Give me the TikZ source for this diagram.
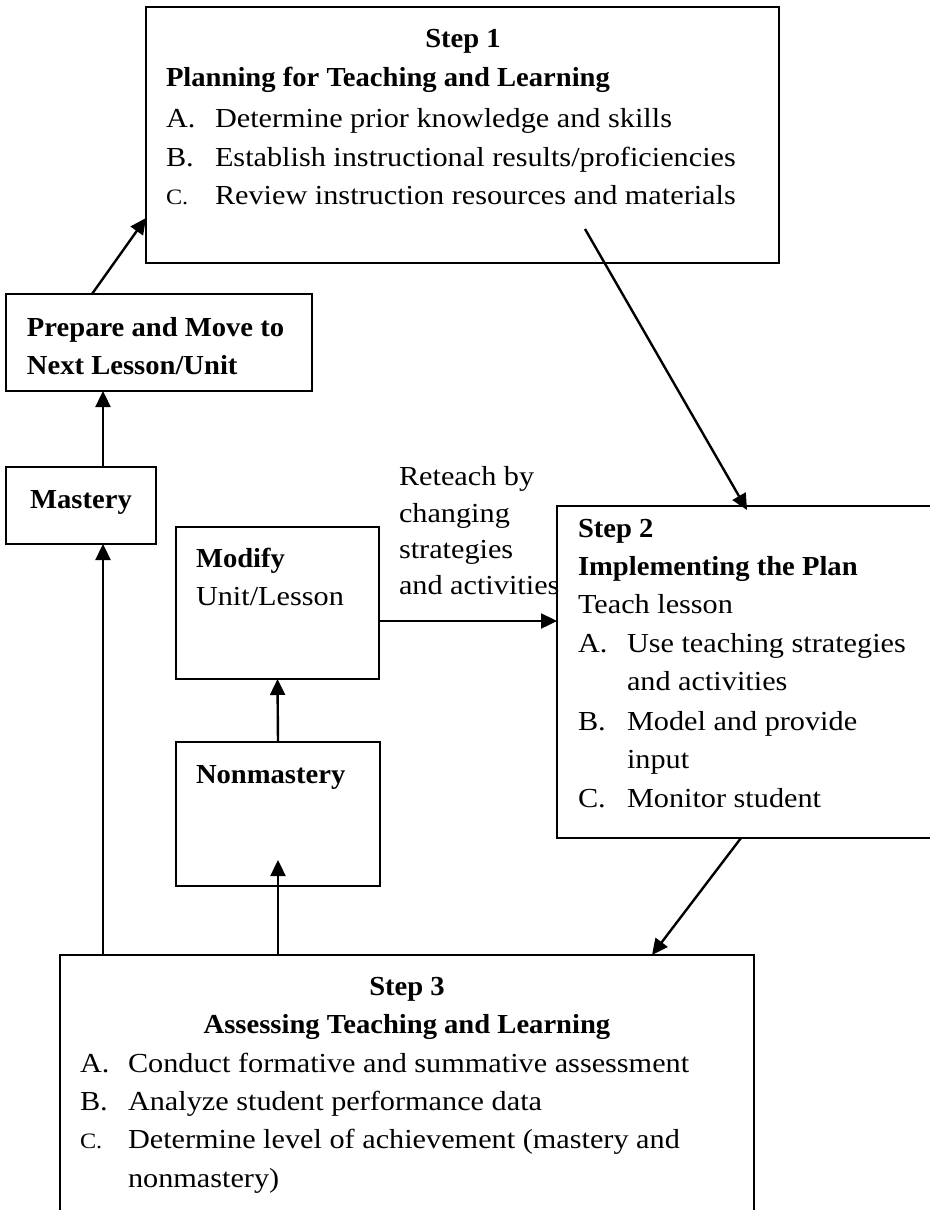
\documentclass[tikz,border=0pt]{standalone}
\usepackage{fontspec}
\setmainfont{Liberation Serif}[FakeStretch=1.1,BoldFeatures={FakeStretch=1.04}]
\usetikzlibrary{arrows.meta}
\begin{document}
\begin{tikzpicture}[x=1pt,y=-1pt,
  bx/.style={draw=black, line width=2pt, inner sep=0pt, outer sep=0pt, anchor=north west},
  txt/.style={inner sep=0pt, outer sep=0pt, anchor=base west, font=\fontsize{27.5}{38.5}\selectfont},
  btxt/.style={txt, font=\fontsize{27.5}{38.5}\selectfont\bfseries},
  ctxt/.style={btxt, anchor=base},
  smc/.style={txt, font=\fontsize{22}{30}\selectfont},
  arr/.style={line width=2.4pt, -{Triangle[length=16pt,width=15pt]}}]
\useasboundingbox (0,0) rectangle (929,1210);

% boxes
\node[bx, minimum width=633pt, minimum height=256pt] (step1) at (146,7) {};
\node[bx, minimum width=306pt, minimum height=97pt] (prep) at (6,294) {};
\node[bx, minimum width=150pt, minimum height=77pt] (mastery) at (6,467) {};
\node[bx, minimum width=203pt, minimum height=152pt] (modify) at (176,527) {};
\node[bx, minimum width=204pt, minimum height=144pt] (nonm) at (176,742) {};
\node[bx, minimum width=376pt, minimum height=332pt] (step2) at (557,506) {};
\node[bx, minimum width=694pt, minimum height=290pt] (step3) at (60,955) {};

% Step 1 text
\node[ctxt] (s1a) at (463,47) {Step 1};
\node[btxt] (s1b) at (166,86) {Planning for Teaching and Learning};
\node[txt] (s1la) at (166,127) {A.};
\node[txt] (s1ta) at (215,127) {Determine prior knowledge and skills};
\node[txt] (s1lb) at (166,166) {B.};
\node[txt] (s1tb) at (215,166) {Establish instructional results/proficiencies};
\node[smc] (s1lc) at (166,204) {C.};
\node[txt] (s1tc) at (215,204) {Review instruction resources and materials};

% Prepare
\node[btxt] (p1) at (27,336) {Prepare and Move to};
\node[btxt] (p2) at (27,374) {Next Lesson/Unit};

% Mastery
\node[ctxt] (m1) at (81,508) {Mastery};

% Modify
\node[btxt] (mo1) at (196,567) {Modify};
\node[txt] (mo2) at (196,605) {Unit/Lesson};

% Nonmastery
\node[btxt] (nm1) at (196,783) {Nonmastery};

% Reteach label
\node[txt] (r1) at (399,485) {Reteach by};
\node[txt] (r2) at (399,522) {changing};
\node[txt] (r3) at (399,558) {strategies};
\node[txt] (r4) at (399,594) {and activities};

% Step 2 text
\node[btxt] (s2a) at (578,537) {Step 2};
\node[btxt] (s2b) at (578,575) {Implementing the Plan};
\node[txt] (s2c) at (578,613) {Teach lesson};
\node[txt] (s2la) at (578,652) {A.};
\node[txt] (s2ta) at (627,652) {Use teaching strategies};
\node[txt] (s2ta2) at (627,690) {and activities};
\node[txt] (s2lb) at (578,730) {B.};
\node[txt] (s2tb) at (627,730) {Model and provide};
\node[txt] (s2tb2) at (627,768) {input};
\node[txt] (s2lc) at (578,807) {C.};
\node[txt] (s2tc) at (627,807) {Monitor student};

% Step 3 text
\node[ctxt] (s3a) at (407,995) {Step 3};
\node[ctxt] (s3b) at (407,1033) {Assessing Teaching and Learning};
\node[txt] (s3la) at (80,1072) {A.};
\node[txt] (s3ta) at (128,1072) {Conduct formative and summative assessment};
\node[txt] (s3lb) at (80,1110) {B.};
\node[txt] (s3tb) at (128,1110) {Analyze student performance data};
\node[smc] (s3lc) at (80,1148) {C.};
\node[txt] (s3tc) at (128,1148) {Determine level of achievement (mastery and};
\node[txt] (s3tc2) at (128,1187) {nonmastery)};

% connectors
\coordinate (mx) at ([xshift=22pt]mastery.south);
\coordinate (mod621) at ([yshift=-18pt]modify.east);
\draw[arr] ([xshift=-67pt]prep.north) -- ([yshift=-83pt]step1.west);
\draw[arr] ([xshift=122.5pt,yshift=-94pt]step1.center) -- ([xshift=2pt,yshift=-4pt]step2.north);
\draw[arr] ([xshift=-4pt]step2.south) -- ([xshift=245pt]step3.north);
\draw[arr] (step3.north -| mx) -- (mx);
\draw[arr] ([xshift=22pt]mastery.north) -- (prep.south -| mx);
\draw[arr] (step3.north -| nonm.south) -- ([yshift=26pt]nonm.south);
\draw[arr] (nonm.north) -- (modify.south);
\draw[arr] (mod621) -- (step2.west |- mod621);
\end{tikzpicture}
\end{document}
